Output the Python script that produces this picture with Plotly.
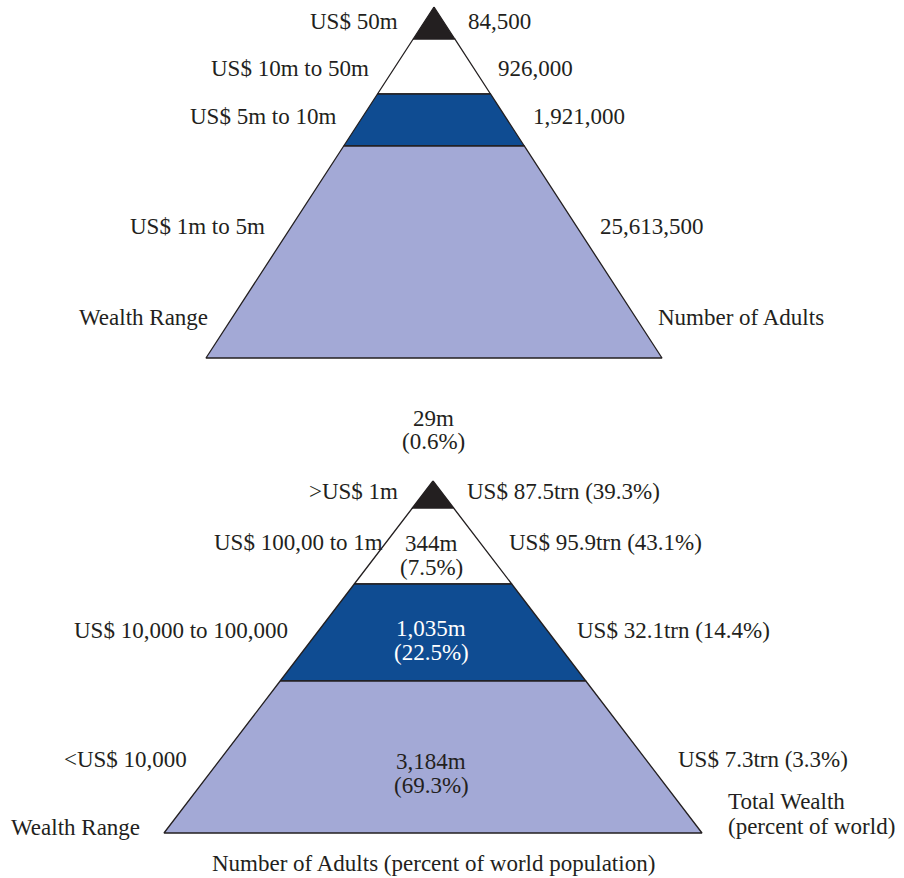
import plotly.graph_objects as go

# ---------------- data ----------------
top_ranges = ["US$ 50m", "US$ 10m to 50m", "US$ 5m to 10m", "US$ 1m to 5m"]
top_adults = ["84,500", "926,000", "1,921,000", "25,613,500"]

bot_ranges = [">US$ 1m", "US$ 100,00 to 1m", "US$ 10,000 to 100,000", "<US$ 10,000"]
bot_wealth = ["US$ 87.5trn (39.3%)", "US$ 95.9trn (43.1%)", "US$ 32.1trn (14.4%)", "US$ 7.3trn (3.3%)"]
bot_adults = ["29m", "344m", "1,035m", "3,184m"]
bot_adult_pct = ["(0.6%)", "(7.5%)", "(22.5%)", "(69.3%)"]

band_colors = ["#231f20", "#ffffff", "#0f4c92", "#a3a9d6"]

# ---------------- layout geometry ----------------
W, H = 904, 878
FONT = "Liberation Serif"
FS = 23
TXT = "#231f20"
EDGE = "#231f20"

top_geom = dict(cx=434, apex=7, base=358, half=228, bounds=[7, 39, 94, 146, 358])
bot_geom = dict(cx=433, apex=481, base=833, half=269, bounds=[481, 508, 584, 681, 833])


def halfw(g, y):
    return g["half"] * (y - g["apex"]) / (g["base"] - g["apex"])


fig = go.Figure()


def add_pyramid(g):
    b = g["bounds"]
    for i in range(4):
        y0, y1 = b[i], b[i + 1]
        h0, h1 = halfw(g, y0), halfw(g, y1)
        xs = [g["cx"] - h0, g["cx"] + h0, g["cx"] + h1, g["cx"] - h1, g["cx"] - h0]
        ys = [y0, y0, y1, y1, y0]
        fig.add_trace(go.Scatter(x=xs, y=ys, mode="lines", fill="toself",
                                 fillcolor=band_colors[i],
                                 line=dict(color=EDGE, width=1.3),
                                 hoverinfo="skip", showlegend=False))


add_pyramid(top_geom)
add_pyramid(bot_geom)

ann = []


def label(text, x, y, anchor="center", color=TXT):
    ann.append(dict(text=text, x=x, y=y, xref="x", yref="y", xanchor=anchor,
                    yanchor="middle", showarrow=False,
                    font=dict(family=FONT, size=FS, color=color)))


# top pyramid labels
top_left_x = [400, 371, 338, 267]
top_right_x = [466, 496, 531, 598]
top_y = [21, 68, 116, 226]
for i in range(4):
    label(top_ranges[i], top_left_x[i], top_y[i], "right")
    label(top_adults[i], top_right_x[i], top_y[i], "left")
label("Wealth Range", 210, 317, "right")
label("Number of Adults", 656, 317, "left")

# bottom pyramid labels
bot_left_x = [400, 385, 290, 189]
bot_right_x = [465, 507, 575, 676]
bot_y = [491, 542, 630, 759]
for i in range(4):
    label(bot_ranges[i], bot_left_x[i], bot_y[i], "right")
    label(bot_wealth[i], bot_right_x[i], bot_y[i], "left")

center_y = [(418, 441), (543, 567), (628, 652), (761, 785)]
center_x = [433, 431, 431, 431]
for i in range(4):
    col = "#ffffff" if i == 2 else TXT
    label(bot_adults[i], center_x[i], center_y[i][0], "center", col)
    label(bot_adult_pct[i], center_x[i], center_y[i][1], "center", col)

label("Wealth Range", 9, 827, "left")
label("Total Wealth", 726, 801, "left")
label("(percent of world)", 726, 826, "left")
label("Number of Adults (percent of world population)", 433, 863, "center")

fig.update_layout(
    width=W, height=H,
    margin=dict(l=0, r=0, t=0, b=0),
    paper_bgcolor="white", plot_bgcolor="white",
    xaxis=dict(range=[0, W], visible=False, fixedrange=True),
    yaxis=dict(range=[H, 0], visible=False, fixedrange=True),
    annotations=ann,
)

fig.write_html("out.html", config={"displayModeBar": False},
               post_script="document.body.style.margin='0';")
